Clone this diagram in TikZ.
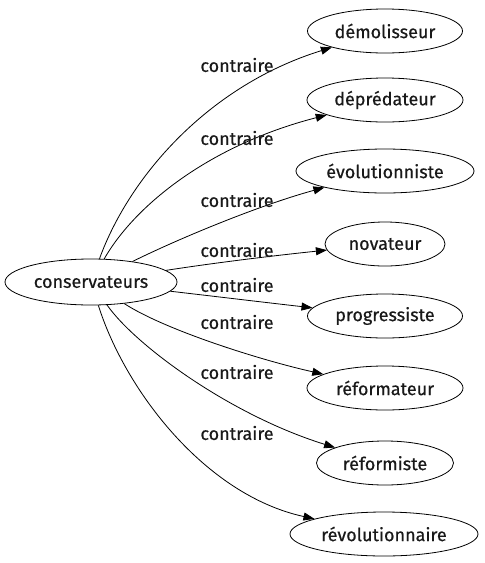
\documentclass[tikz,border=0pt]{standalone}
\usepackage{fontspec}
\setmainfont{Fira Sans}[FakeBold=0.5]
\usetikzlibrary{shapes.geometric,arrows.meta}
\begin{document}
\begin{tikzpicture}[x=1pt,y=-1pt,
  every node/.style={font=\fontsize{18}{20}\selectfont, text=black!90},
  term/.style={ellipse, draw, line width=0.8pt, inner sep=0pt, minimum height=44},
  rel/.style={line width=0.8pt, -{Triangle[length=11pt,width=8pt]}},
  lab/.style={inner sep=0pt}]
\useasboundingbox (0,0) rectangle (485,563);
\node[term, minimum width=172, minimum height=46] (c) at (91,282) {conservateurs};
\node[term, minimum width=155] (t1) at (385,31) {démolisseur};
\node[term, minimum width=156] (t2) at (385,100) {déprédateur};
\node[term, minimum width=178] (t3) at (385,171) {évolutionniste};
\node[term, minimum width=120] (t4) at (385,244) {novateur};
\node[term, minimum width=155] (t5) at (385,316) {progressiste};
\node[term, minimum width=156] (t6) at (385,388) {réformateur};
\node[term, minimum width=137] (t7) at (385,463) {réformiste};
\node[term, minimum width=188] (t8) at (384,534) {révolutionnaire};
\draw[rel] (c) .. controls (130,175) and (210,85) .. (t1);
\draw[rel] (c) .. controls (135,205) and (210,145) .. (t2);
\draw[rel] (c) .. controls (180,238) and (260,205) .. (t3);
\draw[rel] (c) .. controls (220,262) and (280,255) .. (t4);
\draw[rel] (c) .. controls (220,297) and (270,303) .. (t5);
\draw[rel] (c) .. controls (165,330) and (260,360) .. (t6);
\draw[rel] (c) .. controls (135,345) and (230,415) .. (t7);
\draw[rel] (c) .. controls (125,390) and (205,495) .. (t8);
\node[lab] (l1) at (237,65) {contraire};
\node[lab] (l2) at (237,138) {contraire};
\node[lab] (l3) at (237,200) {contraire};
\node[lab] (l4) at (237,250) {contraire};
\node[lab] (l5) at (237,285) {contraire};
\node[lab] (l6) at (237,322) {contraire};
\node[lab] (l7) at (237,372) {contraire};
\node[lab] (l8) at (237,433) {contraire};
\end{tikzpicture}
\end{document}
